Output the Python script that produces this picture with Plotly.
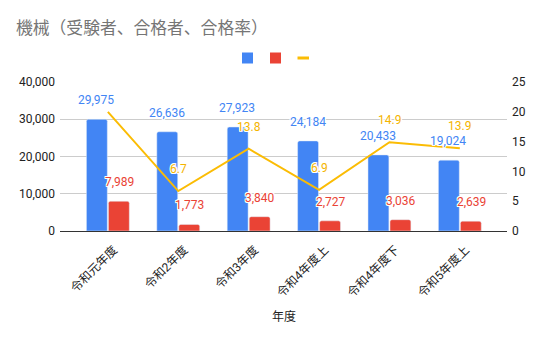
import plotly.graph_objects as go

categories = ["令和元年度", "令和2年度", "令和3年度", "令和4年度上", "令和4年度下", "令和5年度上"]
examinees = [29975, 26636, 27923, 24184, 20433, 19024]
passers = [7989, 1773, 3840, 2727, 3036, 2639]
pass_rate = [20.0, 6.7, 13.8, 6.9, 14.9, 13.9]
rate_labels = ["", "6.7", "13.8", "6.9", "14.9", "13.9"]

BLUE = "#4285F4"
RED = "#EA4335"
YELLOW = "#FBBC04"
FONT = "Roboto, 'Noto Sans CJK JP', sans-serif"
HALO = "-1px -1px 0 #fff, 1px -1px 0 #fff, -1px 1px 0 #fff, 1px 1px 0 #fff, 0 1px 0 #fff, 0 -1px 0 #fff, 1px 0 0 #fff, -1px 0 0 #fff"

fig = go.Figure()
fig.add_trace(go.Bar(x=categories, y=examinees, name="受験者", marker_color=BLUE, hoverinfo="skip"))
fig.add_trace(go.Bar(x=categories, y=passers, name="合格者", marker_color=RED, hoverinfo="skip"))
fig.add_trace(go.Scatter(x=categories, y=pass_rate, name="合格率", yaxis="y2", mode="lines",
                         line=dict(color=YELLOW, width=2), hoverinfo="skip"))

annotations = []
for c, v in zip(categories, examinees):
    annotations.append(dict(x=c, y=v, xref="x", yref="y", text=f"{v:,}", showarrow=False,
                            xshift=-11.5, yshift=19, yanchor="middle",
                            font=dict(family=FONT, size=12, color=BLUE, shadow=HALO)))
for c, v in zip(categories, passers):
    annotations.append(dict(x=c, y=v, xref="x", yref="y", text=f"{v:,}", showarrow=False,
                            xshift=11.5, yshift=19, yanchor="middle",
                            font=dict(family=FONT, size=12, color=RED, shadow=HALO)))
for c, v, t in zip(categories, pass_rate, rate_labels):
    if t:
        annotations.append(dict(x=c, y=v, xref="x", yref="y2", text=t, showarrow=False,
                                yshift=22, yanchor="middle",
                                font=dict(family=FONT, size=12, color="#F4B400", shadow=HALO)))

# plot area: x 60..507 px, y 82..231 px
def px_x(p):
    return (p - 60) / 447.0

def px_y(p):
    return (231 - p) / 149.0

annotations.append(dict(x=0.5, y=px_y(315), xref="paper", yref="paper", text="年度", showarrow=False,
                        xanchor="center", yanchor="middle",
                        font=dict(family="'Noto Sans CJK JP', Roboto, sans-serif", size=12, color="#222")))

shapes = [
    dict(type="rect", xref="paper", yref="paper", x0=px_x(242), x1=px_x(253), y0=px_y(63.5), y1=px_y(52.5),
         fillcolor=BLUE, line=dict(width=0)),
    dict(type="rect", xref="paper", yref="paper", x0=px_x(270), x1=px_x(281), y0=px_y(63.5), y1=px_y(52.5),
         fillcolor=RED, line=dict(width=0)),
    dict(type="line", xref="paper", yref="paper", x0=px_x(297.5), x1=px_x(309), y0=px_y(58), y1=px_y(58),
         line=dict(color=YELLOW, width=3)),
]

fig.update_layout(
    width=551, height=339,
    margin=dict(l=60, r=44, t=82, b=108),
    paper_bgcolor="white", plot_bgcolor="white",
    font=dict(family=FONT, size=12, color="#222"),
    showlegend=False,
    barmode="group", bargap=0.375, bargroupgap=0.05,
    barcornerradius=2,
    title=dict(text="機械（受験者、合格者、合格率）", x=16/551, xanchor="left", xref="container",
               y=1 - 28/339, yanchor="middle", yref="container",
               font=dict(family="'Noto Sans CJK JP', Roboto, sans-serif", size=16.8, color="#757575")),
    xaxis=dict(range=[-0.68, 5.67], tickangle=-45, showline=True, linecolor="#333", linewidth=1,
               ticks="", tickfont=dict(size=12, color="#222"), showgrid=False,
               ticklabelstandoff=6, ticklabelshift=6),
    yaxis=dict(range=[0, 40000], dtick=10000, tickformat=",", showgrid=True, gridcolor="#cccccc",
               zeroline=False, tickfont=dict(size=12, color="#222"), ticks="", ticklabelstandoff=4),
    yaxis2=dict(range=[0, 25], dtick=5, overlaying="y", side="right", showgrid=False, zeroline=False,
                tickfont=dict(size=12, color="#222"), ticks="", ticklabelstandoff=4),
    annotations=annotations,
    shapes=shapes,
)

fig.write_html("out.html")
